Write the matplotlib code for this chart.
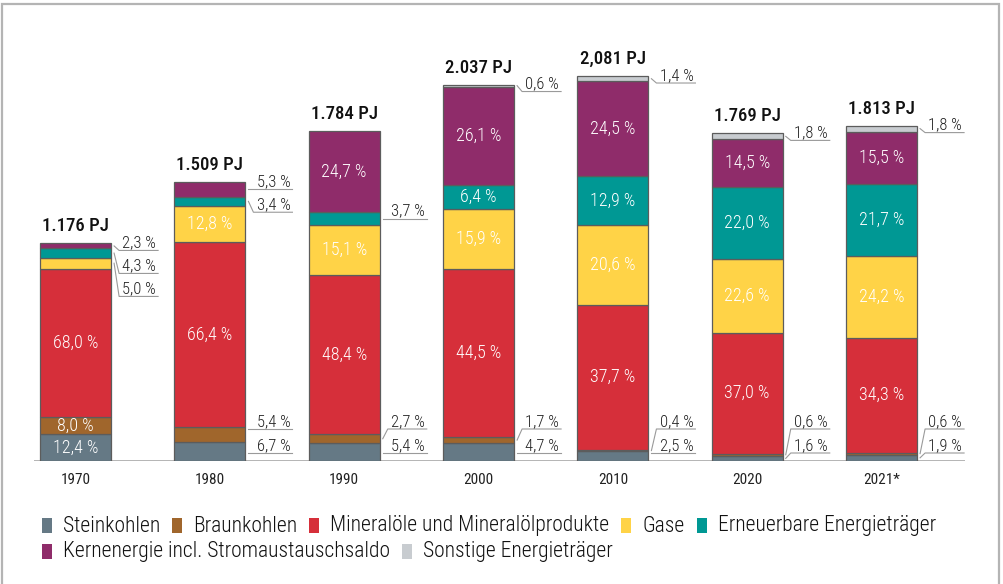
import matplotlib
matplotlib.use('Agg')
import matplotlib.pyplot as plt
from matplotlib.patches import Rectangle
from matplotlib.lines import Line2D

# ---------------- data ----------------
years = ['1970', '1980', '1990', '2000', '2010', '2020', '2021*']
totals = [1176, 1509, 1784, 2037, 2081, 1769, 1813]
total_labels = ['1.176 PJ', '1.509 PJ', '1.784 PJ', '2.037 PJ', '2,081 PJ', '1.769 PJ', '1.813 PJ']
categories = ['Steinkohlen', 'Braunkohlen', 'Mineralöle und Mineralölprodukte', 'Gase',
              'Erneuerbare Energieträger', 'Kernenergie incl. Stromaustauschsaldo',
              'Sonstige Energieträger']
steinkohlen = [12.4, 6.7, 5.4, 4.7, 2.5, 1.6, 1.9]
braunkohlen = [8.0, 5.4, 2.7, 1.7, 0.4, 0.6, 0.6]
mineraloel = [68.0, 66.4, 48.4, 44.5, 37.7, 37.0, 34.3]
gase = [5.0, 12.8, 15.1, 15.9, 20.6, 22.6, 24.2]
erneuerbare = [4.3, 3.4, 3.7, 6.4, 12.9, 22.0, 21.7]
kernenergie = [2.3, 5.3, 24.7, 26.1, 24.5, 14.5, 15.5]
sonstige = [0.0, 0.0, 0.0, 0.6, 1.4, 1.8, 1.8]
# segments labelled outside the bar (category indices)
outside = [[3, 4, 5], [0, 1, 4, 5], [0, 1, 4], [0, 1, 6], [0, 1, 6], [0, 1, 6], [0, 1, 6]]

colors = ['#657985', '#A0662C', '#D62F3A', '#FFD347', '#009894', '#8F2C6A', '#C8CCD0']
series = [steinkohlen, braunkohlen, mineraloel, gase, erneuerbare, kernenergie, sonstige]

FONT = ['Roboto Condensed', 'DejaVu Sans Condensed', 'Liberation Sans Narrow', 'DejaVu Sans']
plt.rcParams['font.family'] = FONT

W, H = 1004, 584
fig = plt.figure(figsize=(W / 100, H / 100), dpi=100)

# outer frame
fig.patches.append(Rectangle((2 / W, -0.05), 997 / W, 1.05 - 4 / H, transform=fig.transFigure,
                             fill=False, edgecolor='#b4b4b4', lw=1.6))

ax_left, ax_right, ax_bottom, ax_top = 34, 965, 461, 40
ax = fig.add_axes([ax_left / W, (H - ax_bottom) / H, (ax_right - ax_left) / W,
                   (ax_bottom - ax_top) / H])
px_per_pj = 0.185
ymax = (ax_bottom - ax_top) / px_per_pj
step_px = 134.33
x0_px = 75.5
xmin = (ax_left - x0_px) / step_px
xmax = (ax_right - x0_px) / step_px
ax.set_xlim(xmin, xmax)
ax.set_ylim(0, ymax)
for s in ax.spines.values():
    s.set_visible(False)
ax.axhline(0, color='#a8a8a8', lw=1.2, zorder=1)
ax.set_yticks([])
x = list(range(len(years)))
ax.set_xticks(x)
ax.set_xticklabels(years, fontsize=11, color='#222222')
ax.tick_params(axis='x', length=0, pad=9)

bw = 0.53
ux = 1 / step_px      # data units per pixel (x)
uy = 1 / px_per_pj    # data units per pixel (y)

for i in range(len(years)):
    bottom = 0.0
    segs = []
    for c in range(len(categories)):
        pct = series[c][i]
        h = totals[i] * pct / 100.0
        if pct > 0:
            ax.bar(x[i], h, bottom=bottom, width=bw, color=colors[c], edgecolor='#5c5c5c',
                   lw=0.9, zorder=2)
        segs.append((bottom, bottom + h, pct))
        bottom += h
    top = bottom
    # total label
    ax.text(x[i], top + 12 * uy, total_labels[i], ha='center', va='baseline',
            fontsize=13.5, fontweight='medium', color='#111111')
    # inside labels
    for c in range(len(categories)):
        b0, b1, pct = segs[c]
        if pct > 0 and c not in outside[i]:
            ax.text(x[i], (b0 + b1) / 2, f'{pct:.1f} %'.replace('.', ','), ha='center',
                    va='center', fontsize=13, fontweight='light', color='white', zorder=3)
    # outside labels
    bottom_group = [c for c in outside[i] if c <= 1]
    top_group = [c for c in outside[i] if c >= 3]
    label_pos = {}
    fixed = [8 * uy, 32 * uy]
    for k, c in enumerate(bottom_group):
        label_pos[c] = fixed[k]
    prev = None
    for c in sorted(top_group, reverse=True):
        b0, b1, pct = segs[c]
        cen = (b0 + b1) / 2
        yl = min(cen, top - 7 * uy)
        if prev is not None:
            yl = min(yl, prev - 23 * uy)
        label_pos[c] = yl
        prev = yl
    xr = x[i] + bw / 2
    for c, yl in label_pos.items():
        b0, b1, pct = segs[c]
        cen = (b0 + b1) / 2
        xe = xr + 47 * ux
        if b0 <= yl <= b1:
            ax.add_line(Line2D([xr + 3 * ux, xe], [yl, yl], color='#9a9a9a', lw=0.8))
        else:
            ax.add_line(Line2D([xr + 3 * ux, xr + 8 * ux, xe], [cen, yl, yl],
                               color='#9a9a9a', lw=0.8))
        ax.text(xe - 2 * ux, yl + 3 * uy, f'{pct:.1f} %'.replace('.', ','), ha='right',
                va='baseline', fontsize=12, fontweight='light', color='#222222')

# legend (manual, two rows)
fig.canvas.draw()
renderer = fig.canvas.get_renderer()
rows = [[0, 1, 2, 3, 4], [5, 6]]
row_y = [526, 552]
for r, items in enumerate(rows):
    xp = 42
    yc = row_y[r]
    for c in items:
        fig.patches.append(Rectangle((xp / W, (H - yc - 7) / H), 10 / W, 15 / H,
                                     transform=fig.transFigure, facecolor=colors[c],
                                     edgecolor='none'))
        t = fig.text((xp + 21) / W, (H - yc) / H, categories[c], ha='left', va='center',
                     fontsize=15.5, fontweight='light', color='#111111')
        wpx = t.get_window_extent(renderer).width
        xp = xp + 21 + wpx + 12

fig.savefig('out.png', dpi=100)
